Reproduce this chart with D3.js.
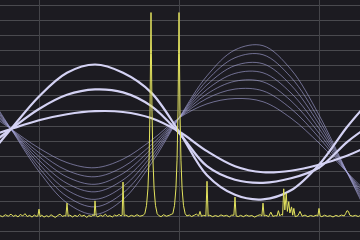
<!DOCTYPE html>
<html><head><meta charset="utf-8">
<script src="https://cdn.jsdelivr.net/npm/d3@7"></script>
<style>html,body{margin:0;padding:0;background:#1c1b21;}svg{display:block;}</style>
</head><body>
<svg id="c" width="360" height="240"></svg>
<script>
// ---- data ----
const sampleH = [-0.5, 0, 1, 2, 3, 4, 5, 6, 7, 8, 9, 10, 11, 12, 12.5];
const thickCurves = [
  [5.65, 6.77, 8.93, 10.5, 11.05, 10.5, 9.2, 6.6, 3.7, 2.4, 2.1, 2.7, 4.4, 6.9, 8.0],
  [6.07, 6.77, 8.1, 9.04, 9.4, 9.2, 8.3, 6.5, 4.3, 3.4, 3.2, 3.5, 4.2, 5.9, 6.6],
  [6.46, 6.77, 7.35, 7.75, 7.95, 7.9, 7.5, 6.6, 5.3, 4.3, 3.9, 4.0, 4.4, 5.0, 5.4]
];
const thinCurves = [
  [7.42, 6.77, 5.5, 4.54, 4.2, 4.77, 6.0, 7.5, 8.44, 8.79, 8.58, 7.49, 5.84, 3.9, 2.95],
  [7.58, 6.77, 5.2, 4.02, 3.6, 4.25, 5.7, 7.5, 8.8, 9.42, 9.3, 8.12, 6.2, 3.9, 2.77],
  [7.71, 6.77, 4.95, 3.59, 3.1, 3.82, 5.45, 7.5, 9.1, 9.94, 9.9, 8.64, 6.5, 3.9, 2.61],
  [7.84, 6.77, 4.7, 3.16, 2.6, 3.39, 5.2, 7.5, 9.4, 10.46, 10.5, 9.16, 6.8, 3.9, 2.46],
  [7.97, 6.77, 4.45, 2.72, 2.1, 2.95, 4.95, 7.5, 9.7, 10.98, 11.1, 9.68, 7.1, 3.9, 2.3],
  [8.1, 6.77, 4.2, 2.29, 1.6, 2.52, 4.7, 7.5, 10.0, 11.5, 11.7, 10.2, 7.4, 3.9, 2.15],
  [8.22, 6.77, 3.95, 1.86, 1.1, 2.09, 4.45, 7.5, 10.3, 12.02, 12.3, 10.72, 7.7, 3.9, 2.0]
];
const specH = [-0.39,-0.3,-0.2,-0.1,0.0,0.08,0.17,0.25,0.33,0.42,0.5,0.58,0.67,0.75,0.83,0.9,0.96,1.0,1.04,1.1,1.18,1.27,1.35,1.43,1.5,1.58,1.67,1.75,1.83,1.91,1.96,2.0,2.04,2.1,2.2,2.28,2.37,2.45,2.53,2.62,2.7,2.78,2.87,2.93,2.97,3.0,3.04,3.1,3.2,3.28,3.37,3.45,3.53,3.62,3.7,3.78,3.86,3.93,3.97,4.0,4.04,4.1,4.2,4.3,4.4,4.5,4.6,4.68,4.72,4.78,4.84,4.89,4.93,4.965,4.985,5.0,5.015,5.035,5.07,5.11,5.16,5.22,5.28,5.36,5.45,5.55,5.65,5.72,5.78,5.84,5.89,5.93,5.965,5.985,6.0,6.015,6.035,6.07,6.11,6.16,6.22,6.28,6.37,6.45,6.55,6.62,6.7,6.75,6.8,6.88,6.96,7.0,7.04,7.1,7.2,7.3,7.4,7.5,7.6,7.7,7.8,7.88,7.96,8.0,8.04,8.12,8.2,8.3,8.4,8.5,8.6,8.7,8.8,8.9,8.96,9.0,9.04,9.1,9.2,9.28,9.35,9.45,9.5,9.55,9.6,9.65,9.7,9.74,9.78,9.83,9.87,9.92,9.96,10.02,10.06,10.1,10.15,10.25,10.32,10.4,10.5,10.6,10.7,10.8,10.9,10.96,11.0,11.04,11.1,11.2,11.3,11.4,11.5,11.6,11.7,11.8,11.9,11.95,12.0,12.05,12.1,12.2,12.3,12.4,12.46];
const specV = [1.02,0.95,1.08,0.98,1.12,0.97,1.05,0.93,1.1,1.0,1.15,0.96,1.04,0.92,1.06,0.98,1.0,1.45,0.95,1.05,0.92,1.02,0.94,1.08,0.99,0.9,1.03,1.12,0.97,1.02,1.0,1.85,0.98,1.06,0.93,1.04,0.96,1.1,0.98,1.05,0.9,1.02,0.97,1.08,1.0,2.0,1.02,0.94,1.05,0.97,1.12,0.96,1.02,0.93,1.06,1.0,1.1,1.0,1.05,3.25,1.0,1.06,0.95,1.04,0.97,1.08,0.98,1.02,1.05,1.15,1.7,2.8,4.7,8.0,11.8,14.5,11.8,8.0,4.7,2.8,1.7,1.15,1.02,0.95,1.08,0.98,1.04,1.1,1.15,1.7,2.8,4.7,8.0,11.8,14.5,11.8,8.0,4.7,2.8,1.7,1.15,1.0,1.06,0.96,1.05,1.12,1.0,1.3,0.98,1.04,1.0,3.3,1.0,1.05,0.95,1.03,0.96,1.07,0.99,1.04,0.94,1.05,1.05,2.25,1.0,0.96,1.04,0.95,1.06,0.98,1.03,0.92,1.02,1.08,1.0,1.85,1.0,1.05,0.95,1.25,0.97,1.02,1.0,1.35,1.0,1.1,1.05,2.8,1.4,2.5,1.3,1.95,1.2,1.6,1.05,1.5,0.95,1.02,1.3,0.98,1.06,0.95,1.03,0.97,1.05,1.0,1.5,1.0,0.95,1.05,0.97,1.02,0.93,1.04,0.97,1.06,1.0,1.15,1.35,1.3,1.05,0.98,1.04,0.96,1.02];
const gridLevels = d3.range(0, 16);
const gridHarmonics = [1, 6, 11];

// ---- scales ----
const W = 360, H = 240;
const x = d3.scaleLinear().domain([-11/28, 349/28]).range([0, W]);
const y = d3.scaleLinear().domain([0, 15]).range([231, 5]);
const svg = d3.select('#c');
svg.append('rect').attr('width', W).attr('height', H).attr('fill', '#1c1b21');

svg.append('g').selectAll('line').data(gridLevels).join('line')
  .attr('x1', 0).attr('x2', W)
  .attr('y1', d => Math.round(y(d)) + 0.5).attr('y2', d => Math.round(y(d)) + 0.5)
  .attr('stroke', '#4a4a4f').attr('stroke-width', 1);
svg.append('g').selectAll('line').data(gridHarmonics).join('line')
  .attr('y1', 0).attr('y2', H)
  .attr('x1', d => Math.round(x(d)) + 0.5).attr('x2', d => Math.round(x(d)) + 0.5)
  .attr('stroke', '#444449').attr('stroke-width', 1);

const line = d3.line().x((d, i) => x(sampleH[i])).y(d => y(d)).curve(d3.curveCatmullRom.alpha(0.5));

svg.append('g').selectAll('path').data(thinCurves).join('path')
  .attr('d', line).attr('fill', 'none')
  .attr('stroke', '#a9a7dc').attr('stroke-opacity', 0.6).attr('stroke-width', 1);
svg.append('g').selectAll('path').data(thickCurves).join('path')
  .attr('d', line).attr('fill', 'none')
  .attr('stroke', '#d4d2f4').attr('stroke-width', 2.2);

const specLine = d3.line().x((d, i) => x(specH[i])).y(d => y(d));
svg.append('path').datum(specV).attr('d', specLine)
  .attr('fill', 'none').attr('stroke', '#e4e45e').attr('stroke-width', 1)
  .attr('stroke-linejoin', 'round');
</script>
</body></html>
